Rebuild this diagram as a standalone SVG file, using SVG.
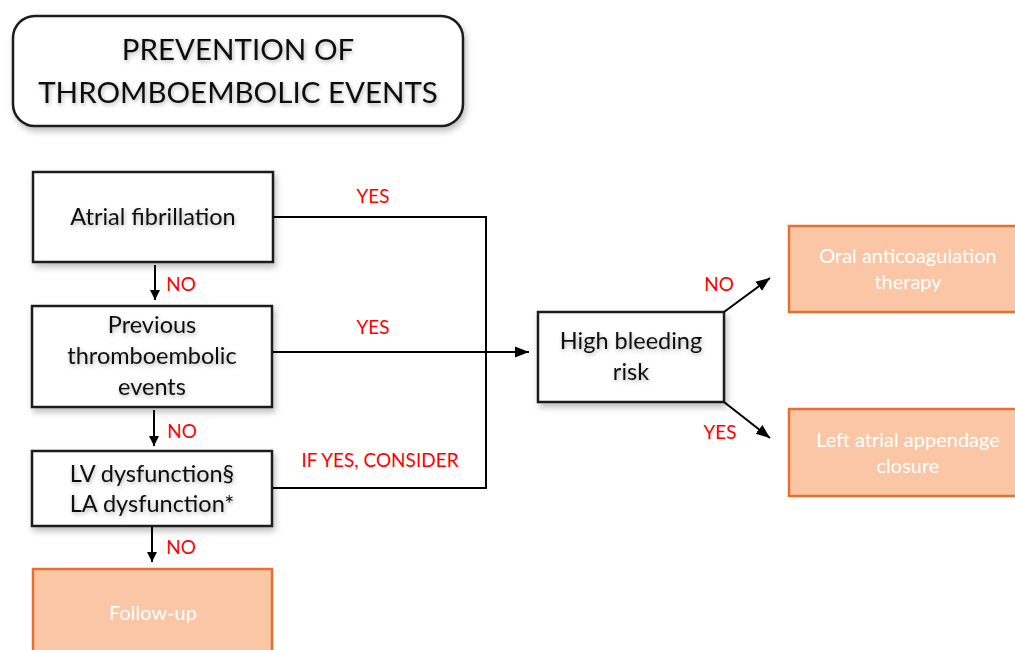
<svg xmlns="http://www.w3.org/2000/svg" width="1015" height="650" viewBox="0 0 1015 650">
<defs>
<filter id="sh" x="-10%" y="-10%" width="130%" height="140%">
<feDropShadow dx="2" dy="4" stdDeviation="3" flood-color="#000" flood-opacity="0.25"/>
</filter>
<filter id="tsh" x="-10%" y="-30%" width="120%" height="160%">
<feDropShadow dx="1" dy="2" stdDeviation="2" flood-color="#000" flood-opacity="0.3"/>
</filter>
<marker id="ah" viewBox="0 0 10 10" refX="10" refY="5" markerWidth="10" markerHeight="10" markerUnits="userSpaceOnUse" orient="auto">
<path d="M0,0 L10,5 L0,10 Z" fill="#000"/>
</marker>
<marker id="ah2" viewBox="0 0 10 10" refX="10" refY="5" markerWidth="14" markerHeight="14" markerUnits="userSpaceOnUse" orient="auto">
<path d="M0,1 L10,5 L0,9 Z" fill="#000"/>
</marker>
</defs>
<style>
.box{fill:#fff;stroke:#1a1a1a;stroke-width:2.5}
.obox{fill:#FBC6A5;stroke:#E8702F;stroke-width:2.5}
.t{font-family:Lato,"Open Sans",sans-serif;font-size:23.5px;fill:#111;text-anchor:middle}
.w{font-family:Lato,"Open Sans",sans-serif;font-size:20px;fill:#fff;text-anchor:middle}
.r{font-family:Lato,"Open Sans",sans-serif;font-size:19px;fill:#ff0000;text-anchor:middle}
.ttl{font-family:Lato,"Open Sans",sans-serif;font-size:29.5px;fill:#111;text-anchor:middle}
.ln{fill:none;stroke:#000;stroke-width:2}
</style>
<rect width="1015" height="650" fill="#fff"/>
<g id="title">
<rect x="13" y="16" width="450" height="110" rx="22" class="box" filter="url(#sh)"/>
<text class="ttl" x="238" y="60" filter="url(#tsh)">PREVENTION OF</text>
<text class="ttl" x="238" y="103" filter="url(#tsh)">THROMBOEMBOLIC EVENTS</text>
</g>
<g id="af">
<rect x="33" y="172" width="240" height="90" class="box" filter="url(#sh)"/>
<text class="t" x="153" y="225" filter="url(#tsh)">Atrial fibrillation</text>
</g>
<g id="prev">
<rect x="32" y="306" width="240" height="101" class="box" filter="url(#sh)"/>
<text class="t" x="152" y="333" filter="url(#tsh)">Previous</text>
<text class="t" x="152" y="364" filter="url(#tsh)">thromboembolic</text>
<text class="t" x="152" y="395" filter="url(#tsh)">events</text>
</g>
<g id="lv">
<rect x="32" y="451" width="240" height="75" class="box" filter="url(#sh)"/>
<text class="t" x="152" y="482" filter="url(#tsh)">LV dysfunction§</text>
<text class="t" x="152" y="512" filter="url(#tsh)">LA dysfunction*</text>
</g>
<g id="followup">
<rect x="33" y="569" width="239" height="95" class="obox"/>
<text class="w" x="153" y="620">Follow-up</text>
</g>
<g id="bleed">
<rect x="538" y="312" width="186" height="90" class="box" filter="url(#sh)"/>
<text class="t" x="631" y="349" filter="url(#tsh)">High bleeding</text>
<text class="t" x="631" y="380" filter="url(#tsh)">risk</text>
</g>
<g id="oac">
<rect x="789" y="226" width="240" height="86" class="obox"/>
<text class="w" x="908" y="263">Oral anticoagulation</text>
<text class="w" x="908" y="289">therapy</text>
</g>
<g id="laa">
<rect x="789" y="409" width="240" height="87" class="obox"/>
<text class="w" x="908" y="447">Left atrial appendage</text>
<text class="w" x="908" y="473">closure</text>
</g>
<g id="connectors">
<path class="ln" d="M155,265 V300" marker-end="url(#ah)"/>
<path class="ln" d="M154,410 V446" marker-end="url(#ah)"/>
<path class="ln" d="M152,527 V562" marker-end="url(#ah)"/>
<path class="ln" d="M273,217 H486 V488 H272"/>
<path class="ln" d="M272,352 H529" marker-end="url(#ah2)"/>
<path class="ln" d="M724,312 L770,278" marker-end="url(#ah2)"/>
<path class="ln" d="M724,402 L770,438" marker-end="url(#ah2)"/>
<text class="r" x="181" y="291">NO</text>
<text class="r" x="182" y="438">NO</text>
<text class="r" x="181" y="554">NO</text>
<text class="r" x="373" y="203">YES</text>
<text class="r" x="373" y="334">YES</text>
<text class="r" x="380" y="467">IF YES, CONSIDER</text>
<text class="r" x="719" y="291">NO</text>
<text class="r" x="720" y="439">YES</text>
</g>
</svg>
